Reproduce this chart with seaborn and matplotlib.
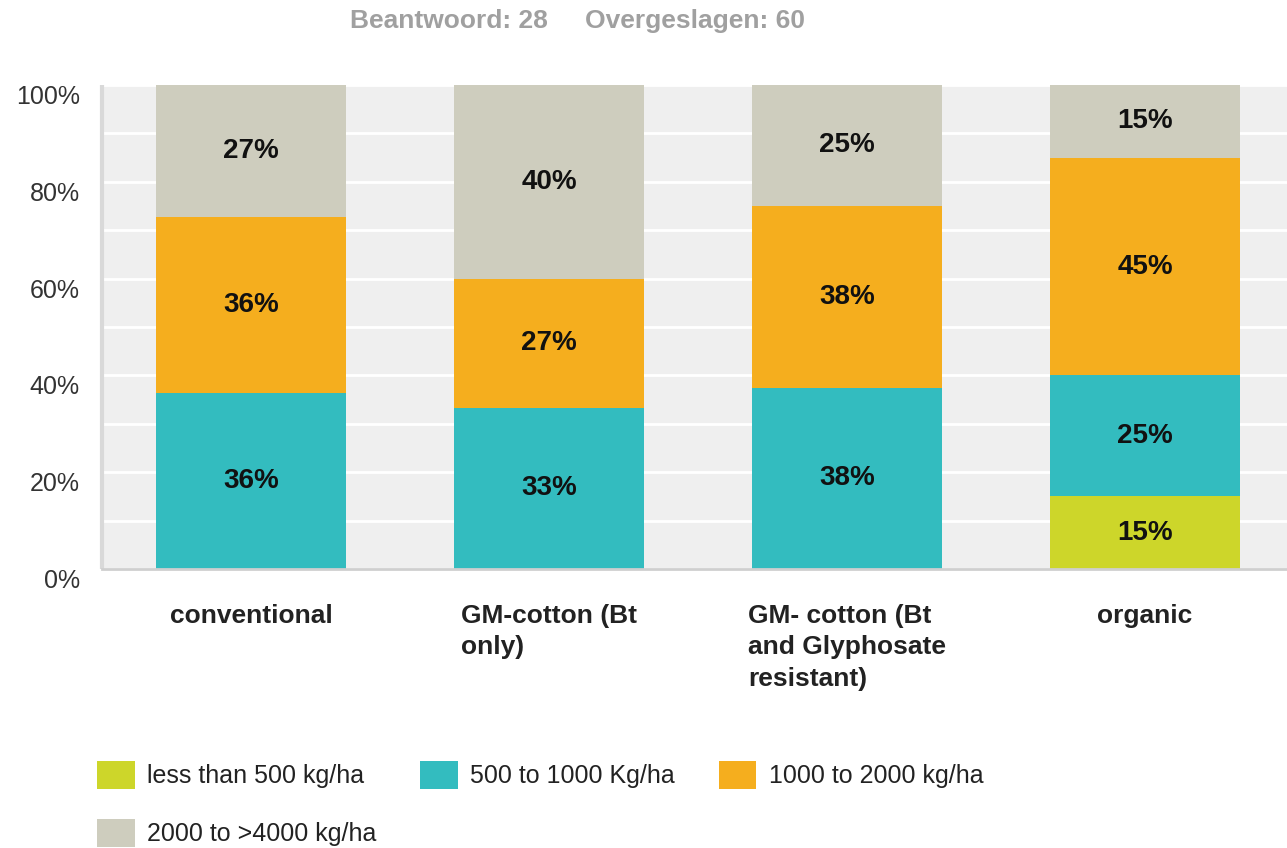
import matplotlib
matplotlib.use("Agg")
import matplotlib.pyplot as plt
import seaborn as sns
from matplotlib.patches import Patch

categories = ["conventional", "GM-cotton (Bt\nonly)",
              "GM- cotton (Bt\nand Glyphosate\nresistant)", "organic"]
series = ["less than 500 kg/ha", "500 to 1000 Kg/ha",
          "1000 to 2000 kg/ha", "2000 to >4000 kg/ha"]
less_500 = [0, 0, 0, 15]
from_500 = [36.4, 33.3, 37.5, 25]
from_1000 = [36.4, 26.7, 37.5, 45]
from_2000 = [27.3, 40.0, 25.0, 15]
colors = ["#cdd62a", "#33bcbf", "#f5ae1e", "#cecdbe"]

sns.set_style("white")
plt.rcParams["font.family"] = ["Liberation Sans", "DejaVu Sans"]

fig = plt.figure(figsize=(12.87, 8.48), dpi=100)
ax = fig.add_axes([102 / 1287, (848 - 569) / 848, 1192 / 1287, 484 / 848])
ax.set_facecolor("#efefef")

bottom = [0, 0, 0, 0]
for vals, col in zip([less_500, from_500, from_1000, from_2000], colors):
    sns.barplot(x=list(range(4)), y=vals, bottom=bottom, color=col, width=0.64,
                saturation=1, errorbar=None, native_scale=True,
                edgecolor="none", linewidth=0, ax=ax)
    for i, v in enumerate(vals):
        if v > 0:
            ax.text(i, bottom[i] + v / 2, f"{int(v + 0.5)}%", ha="center", va="center",
                    fontsize=20, fontweight="bold", color="#111111")
    bottom = [b + v for b, v in zip(bottom, vals)]

ax.set_xlim(-0.5, 3.5)
ax.set_ylim(0, 100)
ax.set_yticks(range(0, 101, 20))
ax.set_yticks(range(10, 100, 20), minor=True)
ax.set_yticklabels([f"{t}%" for t in range(0, 101, 20)], fontsize=18, color="#333333")
for lab in ax.get_yticklabels():
    lab.set_va("top")
ax.grid(which="both", axis="y", color="white", lw=2)
ax.set_axisbelow(True)
ax.tick_params(axis="y", which="both", length=0, pad=16)
ax.set_xticks(range(4))
ax.set_xticklabels(categories, fontsize=19, fontweight="bold", color="#222222",
                   linespacing=1.4, multialignment="left", va="top")
ax.tick_params(axis="x", length=0, pad=25)
ax.set_xlabel("")
ax.set_ylabel("")
for s in ["top", "right"]:
    ax.spines[s].set_visible(False)
ax.spines["left"].set_color("#d9d9d9")
ax.spines["left"].set_linewidth(3)
ax.spines["left"].set_capstyle("butt")
ax.spines["bottom"].set_color("#cfcfcf")
ax.spines["bottom"].set_linewidth(2)

fig.text(350 / 1287, 1 - 21 / 848, "Beantwoord: 28", ha="left", va="center",
         fontsize=19, fontweight="bold", color="#a0a0a0")
fig.text(585 / 1287, 1 - 21 / 848, "Overgeslagen: 60", ha="left", va="center",
         fontsize=19, fontweight="bold", color="#a0a0a0")

handles = [Patch(facecolor=c, edgecolor="none", label=s) for c, s in zip(colors, series)]
order = [0, 3, 1, 2]
fig.legend([handles[i] for i in order], [series[i] for i in order], ncol=3,
           loc="upper left", bbox_to_anchor=(97 / 1287, 1 - 761 / 848),
           frameon=False, fontsize=18, handlelength=1.5, handleheight=1.35,
           handletextpad=0.5, columnspacing=1.75, labelspacing=1.2, borderpad=0,
           borderaxespad=0, labelcolor="#222222")

fig.savefig("out.png", dpi=100)
